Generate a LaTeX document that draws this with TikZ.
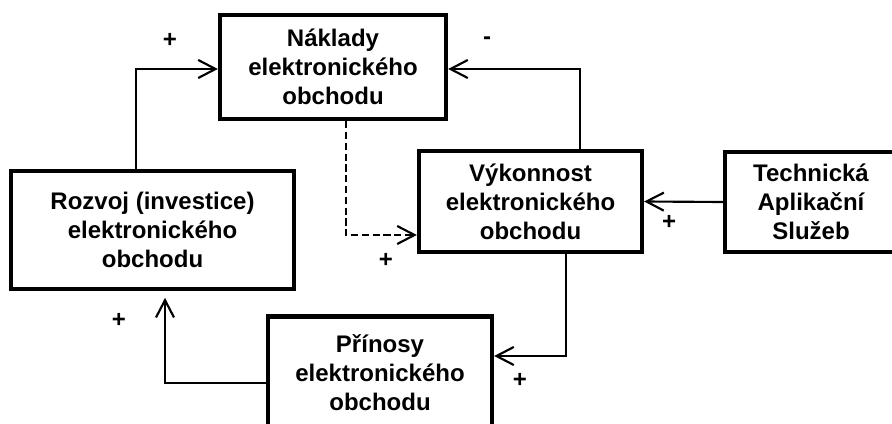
\documentclass[tikz,border=0pt]{standalone}
\usepackage{fontspec}
\setmainfont{Liberation Sans}
\usetikzlibrary{arrows.meta,calc}

\tikzset{
  box/.style={draw, line width=3.2pt, align=center, inner sep=0pt,
    font=\bfseries\fontsize{18}{21.8}\selectfont},
  conn/.style={line width=1.6pt,
    -{Straight Barb[length=13pt,width=13.5pt,line width=1.6pt]}},
  dashconn/.style={conn, dash pattern=on 5.5pt off 2.6pt},
  sign/.style={inner sep=0pt, font=\bfseries\fontsize{18}{20}\selectfont}
}

\begin{document}
\begin{tikzpicture}[x=0.75pt,y=-0.75pt]
  \clip (0,0) rectangle (892,424);
  \fill[white] (0,0) rectangle (892,424);

  % boxes
  \node[box, minimum width=226*0.75pt, minimum height=104*0.75pt] (nak) at (333,67)
    {Náklady\\elektronického\\obchodu};
  \node[box, minimum width=283*0.75pt, minimum height=118*0.75pt] (roz) at (152.5,230)
    {Rozvoj (investice)\\elektronického\\obchodu};
  \node[box, minimum width=223*0.75pt, minimum height=101*0.75pt] (vyk) at (530.5,201.5)
    {Výkonnost\\elektronického\\obchodu};
  \node[box, minimum width=172*0.75pt, minimum height=100*0.75pt] (tech) at (811,202)
    {Technická\\Aplikační\\Služeb};
  \node[box, minimum width=224*0.75pt, minimum height=113*0.75pt] (prin) at (380,373)
    {Přínosy\\elektronického\\obchodu};

  % connectors
  \draw[conn] ($(roz.north)+(-16.5,0)$) |- ($(nak.west)+(0,2)$);
  \draw[conn] ($(vyk.north)+(49.5,0)$) |- ($(nak.east)+(0,2)$);
  \draw[dashconn] ($(nak.south)+(13,0)$) |- ($(vyk.west)+(0,33.5)$);
  \draw[conn] (tech.west) -- (vyk.east);
  \draw[conn] ($(vyk.south)+(35.5,0)$) |- ($(prin.east)+(0,-17)$);
  \draw[conn, shorten >=5pt] ($(prin.west)+(0,10)$) -| ($(roz.south)+(12.5,0)$);

  % signs
  \node[sign] (s1) at (170,40) {+};
  \node[sign] (s2) at (487,41) {-};
  \node[sign] (s3) at (386,260) {+};
  \node[sign] (s4) at (669,222) {+};
  \node[sign] (s5) at (520,380) {+};
  \node[sign] (s6) at (119,320) {+};
\end{tikzpicture}
\end{document}
